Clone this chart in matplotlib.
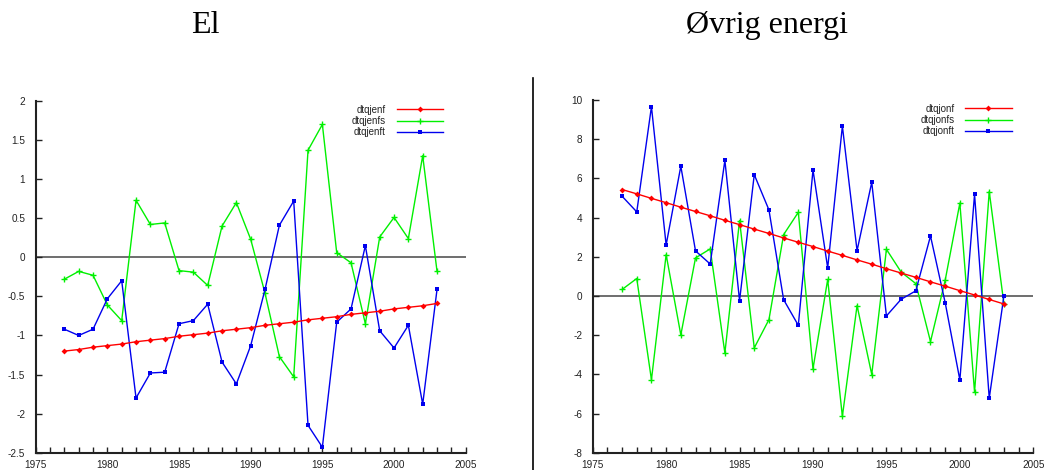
import matplotlib
matplotlib.use("Agg")
import matplotlib.pyplot as plt
from matplotlib.ticker import MultipleLocator, FuncFormatter

years = list(range(1977, 2004))

# El
dtqjenf = [-1.20, -1.18, -1.15, -1.13, -1.11, -1.08, -1.06, -1.04, -1.01, -0.99,
           -0.97, -0.94, -0.92, -0.90, -0.87, -0.85, -0.83, -0.80, -0.78, -0.76,
           -0.73, -0.71, -0.69, -0.66, -0.64, -0.62, -0.59]
dtqjenfs = [-0.28, -0.18, -0.23, -0.61, -0.81, 0.73, 0.42, 0.44, -0.17, -0.19,
            -0.36, 0.40, 0.70, 0.23, -0.46, -1.27, -1.53, 1.37, 1.70, 0.06,
            -0.07, -0.85, 0.26, 0.51, 0.24, 1.30, -0.18]
dtqjenft = [-0.92, -1.00, -0.92, -0.53, -0.30, -1.80, -1.48, -1.47, -0.85, -0.81,
            -0.60, -1.34, -1.62, -1.13, -0.41, 0.41, 0.72, -2.15, -2.43, -0.83,
            -0.66, 0.15, -0.94, -1.16, -0.87, -1.88, -0.41]

# Øvrig energi
dtqjonf = [5.43, 5.21, 4.98, 4.76, 4.53, 4.31, 4.09, 3.86, 3.64, 3.41,
           3.19, 2.96, 2.74, 2.52, 2.29, 2.07, 1.84, 1.62, 1.39, 1.17,
           0.95, 0.72, 0.50, 0.27, 0.05, -0.18, -0.41]
dtqjonfs = [0.33, 0.89, -4.28, 2.11, -1.99, 1.94, 2.40, -2.91, 3.85, -2.65,
            -1.21, 3.13, 4.27, -3.72, 0.84, -6.15, -0.49, -4.01, 2.38, 1.22,
            0.63, -2.33, 0.80, 4.74, -4.91, 5.33, -0.41]
dtqjonft = [5.09, 4.29, 9.66, 2.60, 6.62, 2.30, 1.63, 6.92, -0.24, 6.19,
            4.39, -0.19, -1.50, 6.43, 1.43, 8.67, 2.31, 5.80, -1.02, -0.17,
            0.26, 3.06, -0.34, -4.29, 5.19, -5.22, 0.00]

titles = ["El", "Øvrig energi"]

plt.rcParams['font.family'] = ['Liberation Sans', 'DejaVu Sans']

fig = plt.figure(figsize=(10.44, 4.70), dpi=100)

W, H = 1044, 470


def make_axes(x0, x1, ytop, ybot):
    return fig.add_axes([x0 / W, (H - ybot) / H, (x1 - x0) / W, (ybot - ytop) / H])


ax1 = make_axes(35.7, 465.7, 101, 452.7)
ax2 = make_axes(592.7, 1033.3, 100, 452.7)

plain = FuncFormatter(lambda v, pos: '%g' % v)


def style(ax, ylo, yhi, ystep, labels, series, legend_anchor):
    f, fs, ft = series
    ax.axhline(0, color='#555555', lw=1.2, zorder=1)
    ax.plot(years, f, color='#ff0000', lw=1.0, marker='D', ms=3, mew=0, label=labels[0], zorder=3)
    ax.plot(years, fs, color='#00f000', lw=1.0, marker='+', ms=4.5, mew=1.0, label=labels[1], zorder=2)
    ax.plot(years, ft, color='#0000ee', lw=1.0, marker='s', ms=3, mew=0, label=labels[2], zorder=2)
    ax.set_xlim(1975, 2005)
    ax.set_ylim(ylo, yhi)
    ax.xaxis.set_major_locator(MultipleLocator(5))
    ax.xaxis.set_minor_locator(MultipleLocator(1))
    ax.yaxis.set_major_locator(MultipleLocator(ystep))
    ax.xaxis.set_major_formatter(plain)
    ax.yaxis.set_major_formatter(plain)
    for side in ('top', 'right'):
        ax.spines[side].set_visible(False)
    for side in ('left', 'bottom'):
        ax.spines[side].set_linewidth(1.5)
        ax.spines[side].set_color('#222222')
    ax.tick_params(axis='both', which='both', direction='in', colors='#222222',
                   labelsize=7.2, width=1.0)
    ax.tick_params(axis='both', which='major', length=4)
    ax.tick_params(axis='x', which='minor', length=4)
    ax.tick_params(axis='y', which='major', pad=7.5)
    ax.tick_params(axis='x', which='major', pad=5)
    ax.set_facecolor('none')
    leg = ax.legend(loc='upper right', bbox_to_anchor=legend_anchor, frameon=False,
                    markerfirst=False, fontsize=7, handlelength=4.8, handletextpad=1.1,
                    labelspacing=0.15, borderpad=0, borderaxespad=0)
    for t in leg.get_texts():
        t.set_color('#222222')


style(ax1, -2.5, 2, 0.5, ['dtqjenf', 'dtqjenfs', 'dtqjenft'],
      (dtqjenf, dtqjenfs, dtqjenft), ((443.3 - 35.7) / 430, 0.99))
style(ax2, -8, 10, 2, ['dtqjonf', 'dtqjonfs', 'dtqjonft'],
      (dtqjonf, dtqjonfs, dtqjonft), ((1011.7 - 592.7) / 440.6, 0.99))

# Panel titles
fig.text(205.5 / W, (H - 33.3) / H, titles[0], family='Liberation Serif',
         fontsize=23, ha='center', va='baseline', color='black')
fig.text(766.5 / W, (H - 33.3) / H, titles[1], family='Liberation Serif',
         fontsize=23, ha='center', va='baseline', color='black')

# Divider between the panels
fig.add_artist(plt.Line2D([532.5 / W, 532.5 / W], [0, (H - 77.7) / H],
                          transform=fig.transFigure, color='black', lw=1.2))

fig.savefig('out.png', dpi=100)
